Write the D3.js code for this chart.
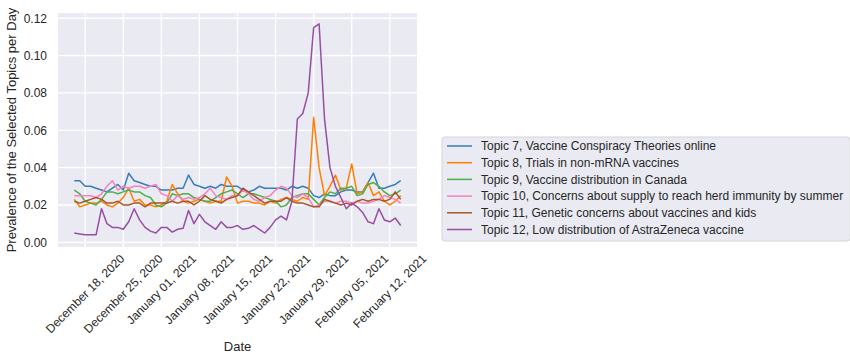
<!DOCTYPE html>
<head>
    <meta charset="utf-8">
    <style>
        body { margin: 0; background: #fff; }
        svg text { font-family: "Liberation Sans", Arial, sans-serif; fill: #262626; }
    </style>
</head>
<body>
    <div id="chart"></div>
    <script src="https://d3js.org/d3.v7.min.js"></script>
    <script>
        // daily series, Dec 16 2020 .. Feb 14 2021
        var startDay = "2020-12-16", endDay = "2021-02-15";

        var topicNames = [
            "Topic 7, Vaccine Conspiracy Theories online",
            "Topic 8, Trials in non-mRNA vaccines",
            "Topic 9, Vaccine distribution in Canada",
            "Topic 10, Concerns about supply to reach herd immunity by summer",
            "Topic 11, Genetic concerns about vaccines and kids",
            "Topic 12, Low distribution of AstraZeneca vaccine"
        ];
        var topicColors = ["#377eb8", "#ff7f00", "#4daf4a", "#f781bf", "#a65628", "#984ea3"];

        var topic7 = [0.033, 0.033, 0.030, 0.030, 0.029, 0.028, 0.027, 0.029, 0.031, 0.028,
                      0.037, 0.033, 0.032, 0.031, 0.030, 0.030, 0.028, 0.028, 0.028, 0.029,
                      0.029, 0.036, 0.031, 0.030, 0.029, 0.030, 0.029, 0.031, 0.030, 0.030,
                      0.030, 0.028, 0.027, 0.028, 0.030, 0.029, 0.029, 0.029, 0.029, 0.028,
                      0.030, 0.029, 0.030, 0.029, 0.025, 0.024, 0.026, 0.025, 0.025, 0.027,
                      0.028, 0.028, 0.027, 0.027, 0.032, 0.037, 0.029, 0.029, 0.030, 0.031, 0.033];
        var topic8 = [0.023, 0.019, 0.020, 0.021, 0.021, 0.022, 0.020, 0.019, 0.021, 0.024,
                      0.029, 0.022, 0.023, 0.020, 0.020, 0.019, 0.020, 0.022, 0.031, 0.026,
                      0.022, 0.021, 0.022, 0.023, 0.022, 0.021, 0.022, 0.022, 0.035, 0.030,
                      0.021, 0.022, 0.022, 0.021, 0.021, 0.020, 0.022, 0.021, 0.023, 0.024,
                      0.023, 0.022, 0.024, 0.023, 0.067, 0.040, 0.025, 0.030, 0.036, 0.028,
                      0.029, 0.042, 0.026, 0.027, 0.032, 0.025, 0.027, 0.022, 0.020, 0.022, 0.025];
        var topic9 = [0.028, 0.026, 0.022, 0.021, 0.020, 0.023, 0.027, 0.027, 0.026, 0.027,
                      0.028, 0.027, 0.027, 0.025, 0.024, 0.020, 0.019, 0.021, 0.026, 0.025,
                      0.026, 0.026, 0.024, 0.023, 0.022, 0.022, 0.024, 0.026, 0.027, 0.028,
                      0.026, 0.024, 0.026, 0.026, 0.025, 0.024, 0.023, 0.022, 0.019, 0.020,
                      0.024, 0.025, 0.026, 0.026, 0.023, 0.020, 0.024, 0.027, 0.026, 0.029,
                      0.029, 0.030, 0.025, 0.026, 0.031, 0.032, 0.030, 0.027, 0.025, 0.026, 0.028];
        var topic10 = [0.025, 0.025, 0.025, 0.025, 0.024, 0.026, 0.030, 0.033, 0.028, 0.030,
                       0.029, 0.030, 0.030, 0.029, 0.030, 0.031, 0.026, 0.025, 0.022, 0.025,
                       0.023, 0.024, 0.023, 0.024, 0.026, 0.029, 0.025, 0.024, 0.023, 0.025,
                       0.025, 0.028, 0.026, 0.023, 0.022, 0.024, 0.025, 0.028, 0.030, 0.029,
                       0.025, 0.024, 0.026, 0.024, 0.019, 0.020, 0.022, 0.022, 0.021, 0.022,
                       0.022, 0.021, 0.022, 0.021, 0.021, 0.022, 0.023, 0.025, 0.024, 0.023, 0.021];
        var topic11 = [0.022, 0.021, 0.022, 0.023, 0.024, 0.023, 0.021, 0.021, 0.022, 0.020,
                       0.020, 0.021, 0.021, 0.019, 0.021, 0.021, 0.021, 0.021, 0.022, 0.021,
                       0.022, 0.022, 0.020, 0.022, 0.025, 0.023, 0.022, 0.021, 0.023, 0.024,
                       0.025, 0.029, 0.027, 0.025, 0.023, 0.021, 0.022, 0.022, 0.022, 0.024,
                       0.022, 0.021, 0.021, 0.020, 0.019, 0.019, 0.023, 0.022, 0.021, 0.020,
                       0.021, 0.020, 0.022, 0.023, 0.022, 0.023, 0.023, 0.022, 0.023, 0.027, 0.023];
        var topic12 = [0.005, 0.0045, 0.004, 0.004, 0.004, 0.018, 0.010, 0.008, 0.008, 0.007,
                       0.011, 0.018, 0.012, 0.008, 0.006, 0.005, 0.008, 0.008, 0.0055, 0.007,
                       0.0075, 0.017, 0.010, 0.015, 0.011, 0.009, 0.007, 0.011, 0.008, 0.008,
                       0.009, 0.007, 0.0075, 0.009, 0.007, 0.005, 0.008, 0.012, 0.014, 0.012,
                       0.022, 0.066, 0.069, 0.080, 0.115, 0.117, 0.066, 0.040, 0.030, 0.024,
                       0.018, 0.021, 0.019, 0.016, 0.011, 0.010, 0.018, 0.012, 0.011, 0.013, 0.009];

        var xTickDays = ["2020-12-18", "2020-12-25", "2021-01-01", "2021-01-08", "2021-01-15",
                         "2021-01-22", "2021-01-29", "2021-02-05", "2021-02-12"];
        var yTicks = [0, 0.02, 0.04, 0.06, 0.08, 0.10, 0.12];

        var parseDay = d3.utcParse("%Y-%m-%d");
        var formatDay = d3.utcFormat("%B %d, %Y");
        var days = d3.utcDay.range(parseDay(startDay), parseDay(endDay));
        var series = [topic7, topic8, topic9, topic10, topic11, topic12];

        var W = 850, H = 361;
        var plot = {left: 58, right: 417, top: 13, bottom: 247};

        var svg = d3.select("#chart").append("svg")
            .attr("width", W)
            .attr("height", H);

        var x = d3.scaleUtc()
            .domain([d3.utcDay.offset(days[0], -3), d3.utcDay.offset(days[days.length - 1], 3)])
            .range([plot.left, plot.right]);

        var y = d3.scaleLinear()
            .domain([-0.0025, 0.1228])
            .range([plot.bottom, plot.top]);

        // background + grid
        svg.append("rect")
            .attr("x", plot.left).attr("y", plot.top)
            .attr("width", plot.right - plot.left)
            .attr("height", plot.bottom - plot.top)
            .attr("fill", "#eaeaf2");

        var grid = svg.append("g");
        grid.selectAll(".vg").data(xTickDays).enter().append("line")
            .attr("x1", function(d) { return x(parseDay(d)); })
            .attr("x2", function(d) { return x(parseDay(d)); })
            .attr("y1", plot.top).attr("y2", plot.bottom)
            .attr("stroke", "#fff").attr("stroke-width", 1.3);
        grid.selectAll(".hg").data(yTicks).enter().append("line")
            .attr("x1", plot.left).attr("x2", plot.right)
            .attr("y1", function(d) { return y(d); })
            .attr("y2", function(d) { return y(d); })
            .attr("stroke", "#fff").attr("stroke-width", 1.3);

        // lines
        var line = d3.line()
            .x(function(d, i) { return x(days[i]); })
            .y(function(d) { return y(d); });

        svg.append("g").selectAll("path")
            .data(series)
            .enter().append("path")
            .attr("d", line)
            .attr("fill", "none")
            .attr("stroke", function(d, i) { return topicColors[i]; })
            .attr("stroke-width", 1.5)
            .attr("stroke-linejoin", "round");

        // y axis
        var yAxis = svg.append("g")
            .attr("transform", "translate(" + plot.left + ",0)")
            .call(d3.axisLeft(y).tickValues(yTicks).tickFormat(d3.format(".2f")).tickSize(0).tickPadding(11));
        yAxis.select(".domain").remove();
        yAxis.selectAll("text").attr("font-size", 12).attr("fill", "#262626")
            .attr("font-family", "Liberation Sans, Arial, sans-serif");

        // x axis labels, rotated 45 and centred on the tick
        var xl = svg.append("g");
        xTickDays.forEach(function(d) {
            var g = xl.append("g");
            var t = g.append("text")
                .attr("font-size", 12)
                .attr("text-anchor", "middle")
                .attr("dominant-baseline", "central")
                .attr("transform", "rotate(-45)")
                .text(formatDay(parseDay(d)));
            var w = t.node().getComputedTextLength();
            var half = (w + 13) * Math.SQRT1_2 / 2;
            g.attr("transform", "translate(" + x(parseDay(d)) + "," + (plot.bottom + 5 + half) + ")");
        });

        svg.append("text")
            .attr("x", (plot.left + plot.right) / 2)
            .attr("y", 351)
            .attr("text-anchor", "middle")
            .attr("font-size", 13)
            .text("Date");

        svg.append("text")
            .attr("transform", "translate(16," + ((plot.top + plot.bottom) / 2) + ") rotate(-90)")
            .attr("text-anchor", "middle")
            .attr("font-size", 13)
            .text("Prevalence of the Selected Topics per Day");

        // legend
        var leg = svg.append("g");
        var legBox = leg.append("rect")
            .attr("x", 442).attr("y", 137)
            .attr("height", 104)
            .attr("rx", 3)
            .attr("fill", "#eaeaf2")
            .attr("stroke", "#d4d4d8");
        var maxW = 0;
        topicNames.forEach(function(name, i) {
            var yy = 146 + i * 16.7;
            leg.append("line")
                .attr("x1", 447).attr("x2", 472)
                .attr("y1", yy).attr("y2", yy)
                .attr("stroke", topicColors[i]).attr("stroke-width", 1.5);
            var t = leg.append("text")
                .attr("x", 481).attr("y", yy)
                .attr("dy", "0.35em")
                .attr("font-size", 12)
                .text(name);
            maxW = Math.max(maxW, t.node().getComputedTextLength());
        });
        legBox.attr("width", 481 + maxW + 7 - 442);
    </script>
</body>
